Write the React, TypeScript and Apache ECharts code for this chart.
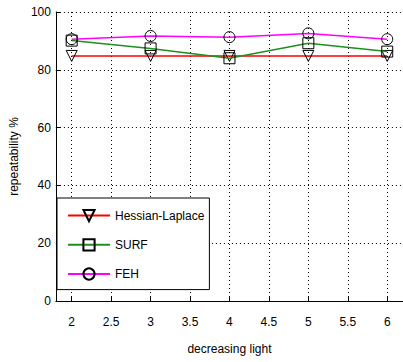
import React, { useEffect, useRef } from "react";
import * as echarts from "echarts";

const xValues = [2, 3, 4, 5, 6];
const hessianLaplace = [84.8, 84.8, 84.8, 84.8, 84.8];
const surf = [90.1, 87.4, 84.0, 89.2, 86.3];
const feh = [90.6, 91.7, 91.3, 92.6, 90.6];
const seriesNames = ["Hessian-Laplace", "SURF", "FEH"];
const xLabelName = "decreasing light";
const yLabelName = "repeatability %";

const FONT = "'Liberation Sans', Arial, Helvetica, sans-serif";

export default function App() {
  const ref = useRef<HTMLDivElement>(null);
  useEffect(() => {
    if (!ref.current) return;
    const chart = echarts.init(ref.current, undefined, { renderer: "svg" });
    const pts = (vals: number[]) => xValues.map((x, i) => [x, vals[i]]);
    const markerStyle = { color: "rgba(255,255,255,0)", borderColor: "#000", borderWidth: 1 };
    chart.setOption({
      animation: false,
      backgroundColor: "#fff",
      grid: { left: 52, top: 12, width: 352, height: 289, containLabel: false },
      xAxis: {
        type: "value",
        min: 1.8,
        max: 6.2,
        splitNumber: 9,
        name: xLabelName,
        nameLocation: "middle",
        nameGap: 42,
        nameTextStyle: { color: "#000", fontSize: 12, fontFamily: FONT },
        axisLine: { show: true, onZero: false, lineStyle: { color: "#000", width: 1 } },
        axisTick: { show: true, inside: true, length: 5, lineStyle: { color: "#000" } },
        axisLabel: {
          color: "#000",
          fontSize: 12,
          fontFamily: FONT,
          margin: 15,
          showMinLabel: false,
          showMaxLabel: false,
        },
        splitLine: { show: true, lineStyle: { color: "#000", type: [1, 3], width: 1 } },
      },
      yAxis: {
        type: "value",
        min: 0,
        max: 100,
        interval: 20,
        name: yLabelName,
        nameLocation: "middle",
        nameGap: 33,
        nameTextStyle: { color: "#000", fontSize: 12, fontFamily: FONT },
        axisLine: { show: true, lineStyle: { color: "#000", width: 1 } },
        axisTick: { show: true, inside: true, length: 5, lineStyle: { color: "#000" } },
        axisLabel: { color: "#000", fontSize: 12, fontFamily: FONT, margin: 5 },
        splitLine: { show: true, lineStyle: { color: "#000", type: [1, 3], width: 1 } },
      },
      legend: {
        show: true,
        orient: "vertical",
        left: 57,
        top: 198,
        padding: [11, 5, 9, 10],
        itemGap: 16,
        itemWidth: 42,
        itemHeight: 14,
        backgroundColor: "#fff",
        borderColor: "#000",
        borderWidth: 1,
        borderRadius: 0,
        textStyle: { color: "#000", fontSize: 12, fontFamily: FONT },
        data: seriesNames,
      },
      series: [
        {
          name: seriesNames[0],
          type: "line",
          data: pts(hessianLaplace),
          symbol: "triangle",
          symbolRotate: 180,
          symbolSize: 11,
          lineStyle: { color: "#ff0000", width: 1.5 },
          itemStyle: markerStyle,
          z: 3,
        },
        {
          name: seriesNames[1],
          type: "line",
          data: pts(surf),
          symbol: "rect",
          symbolSize: 11,
          lineStyle: { color: "#1f8f1f", width: 1.5 },
          itemStyle: markerStyle,
          z: 4,
        },
        {
          name: seriesNames[2],
          type: "line",
          data: pts(feh),
          symbol: "circle",
          symbolSize: 11,
          lineStyle: { color: "#ff00ff", width: 1.5 },
          itemStyle: markerStyle,
          z: 5,
        },
      ],
    });
    return () => chart.dispose();
  }, []);
  return (
    <div
      ref={ref}
      style={{ position: "fixed", left: 0, top: 0, width: 403, height: 362, background: "#fff" }}
    />
  );
}
